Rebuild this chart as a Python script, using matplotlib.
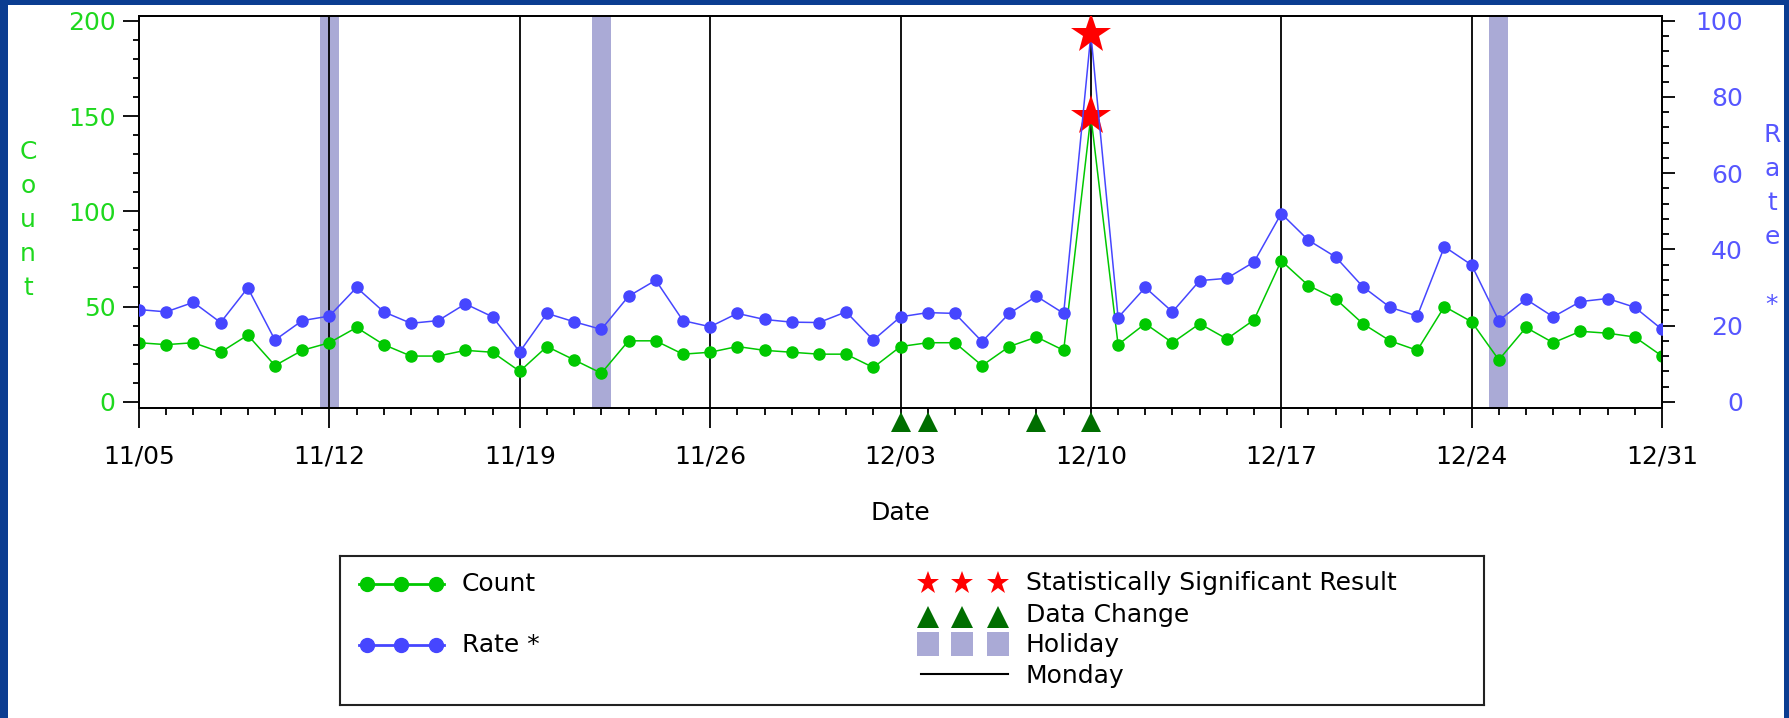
import numpy as np
import matplotlib.pyplot as plt
import matplotlib.dates as mdates
from matplotlib.patches import Rectangle
from matplotlib.ticker import MultipleLocator, FixedLocator

# daily series, 2012-11-05 .. 2012-12-31
dates = np.arange('2012-11-05', '2013-01-01', dtype='datetime64[D]')
count = [31, 30, 31, 26, 35, 19, 27, 31, 39, 30, 24, 24, 27, 26, 16, 29, 22, 15,
         32, 32, 25, 26, 29, 27, 26, 25, 25, 18, 29, 31, 31, 19, 29, 34, 27, 150,
         30, 41, 31, 41,
         33, 43, 74, 61, 54, 41, 32, 27, 50, 42, 22, 39, 31, 37, 36, 34, 24]
rate = [24.2, 23.6, 26.1, 20.8, 29.9, 16.2, 21.3, 22.5, 30.0, 23.6, 20.6, 21.3,
        25.7, 22.3, 13.1, 23.2, 21.0, 19.0,
        27.7, 31.9, 21.3, 19.7, 23.2, 21.6, 20.9, 20.8, 23.6, 16.2, 22.3, 23.4,
        23.2, 15.8, 23.2, 27.7, 23.2, 96.5, 22.1, 30.0, 23.6, 31.8,
        32.4, 36.7, 49.4, 42.4, 38.0, 30.2, 24.8, 22.5, 40.7, 35.9, 21.3, 26.9,
        22.3, 26.3, 27.1, 24.8, 19.0]

holidays = np.array(['2012-11-12', '2012-11-22', '2012-12-25'], dtype='datetime64[D]')
mondays = np.array(['2012-11-12', '2012-11-19', '2012-11-26', '2012-12-03',
                    '2012-12-10', '2012-12-17', '2012-12-24'], dtype='datetime64[D]')
data_changes = np.array(['2012-12-03', '2012-12-04', '2012-12-08', '2012-12-10'],
                        dtype='datetime64[D]')
significant = np.array(['2012-12-10'], dtype='datetime64[D]')

GREEN = '#00c800'
GREEN_TXT = '#1ed81e'
BLUE = '#4646ff'
BLUE_TXT = '#5656ff'
HOLI = '#aaaad6'
DKGREEN = '#006e00'
BORDER = '#0b3d91'
FS = 18

plt.rcParams['font.family'] = ['DejaVu Sans']

W, H = 1789, 718
fig = plt.figure(figsize=(W / 100, H / 100), dpi=100, facecolor=BORDER)
fig.patches.append(Rectangle((8 / W, 0), (1784 - 8) / W, (H - 5) / H,
                             transform=fig.transFigure, facecolor='white',
                             edgecolor='none', zorder=-10))

ax = fig.add_axes([139 / W, (H - 407.5) / H, (1662 - 139) / W, 391.5 / H])
ax2 = ax.twinx()

# holidays and mondays
for h in holidays:
    c = mdates.date2num(h)
    ax.axvspan(c - 0.35, c + 0.35, color=HOLI, lw=0, zorder=1)
for m in mondays:
    ax.axvline(m, color='black', lw=1.3, zorder=1.5)

ax.plot(dates, count, color=GREEN, lw=1.1, marker='o', ms=8, mec=GREEN, zorder=3)
ax2.plot(dates, rate, color=BLUE, lw=1.1, marker='o', ms=8, mec=BLUE, zorder=3)

sig = np.isin(dates, significant)
ax.plot(dates[sig], np.array(count)[sig], ls='none', marker='*', ms=30,
        color='red', mew=0, zorder=4)
ax2.plot(dates[sig], np.array(rate)[sig], ls='none', marker='*', ms=30,
         color='red', mew=0, zorder=4)

ax.plot(data_changes, np.full(len(data_changes), -0.037), ls='none', marker='^',
        ms=15, color=DKGREEN, mew=0, transform=ax.get_xaxis_transform(),
        clip_on=False, zorder=2)

ax.set_xlim(dates[0], dates[-1])
ax.set_ylim(-3, 202.5)
ax2.set_ylim(-1.5, 101.25)

ax.xaxis.set_major_locator(mdates.WeekdayLocator(byweekday=mdates.MO))
ax.xaxis.set_minor_locator(mdates.DayLocator())
ax.xaxis.set_major_formatter(mdates.DateFormatter('%m/%d'))
ax.yaxis.set_major_locator(MultipleLocator(50))
ax.yaxis.set_minor_locator(MultipleLocator(10))
ax2.yaxis.set_major_locator(FixedLocator([0, 20, 40, 60, 80, 100]))
ax2.yaxis.set_minor_locator(MultipleLocator(4))

ax.tick_params(axis='x', which='major', direction='out', length=14.4, width=1.3,
               labelsize=FS, pad=12, colors='black')
ax.tick_params(axis='x', which='minor', direction='out', length=5, width=1.3)
ax.tick_params(axis='y', which='major', direction='out', length=11.5, width=1.3,
               labelsize=FS, pad=5.5, labelcolor=GREEN_TXT)
ax.tick_params(axis='y', which='minor', direction='out', length=4.3, width=1.3)
ax2.tick_params(axis='y', which='major', direction='out', length=9.7, width=1.3,
                labelsize=FS, pad=48.5, labelcolor=BLUE_TXT)
ax2.tick_params(axis='y', which='minor', direction='out', length=5, width=1.3)
for lbl in ax2.get_yticklabels():
    lbl.set_horizontalalignment('right')

for a in (ax, ax2):
    for s in a.spines.values():
        s.set_linewidth(1.3)

ax.set_xlabel('Date', fontsize=FS, labelpad=24)

fig.text(28 / W, (H - 220) / H, '\n'.join('Count'), color=GREEN_TXT, fontsize=FS,
         ha='center', va='center', ma='center', linespacing=1.53)
fig.text(1772 / W, (H - 220) / H, '\n'.join('Rate *'), color=BLUE_TXT, fontsize=FS,
         ha='center', va='center', ma='center', linespacing=1.53)

# legend box
lax = fig.add_axes([340 / W, (H - 705) / H, (1484 - 340) / W, 149 / H])
lax.set_xlim(340, 1484)
lax.set_ylim(705, 556)
lax.set_xticks([])
lax.set_yticks([])
for s in lax.spines.values():
    s.set_linewidth(1.5)
    s.set_color('#222222')

for y, col, lab in [(584, GREEN, 'Count'), (645, BLUE, 'Rate *')]:
    lax.plot([359, 444], [y, y], color=col, lw=2)
    lax.plot([367, 401, 436], [y, y, y], ls='none', marker='o', ms=10, color=col)
    lax.text(462, y, lab, fontsize=FS, va='center')

kx = [928, 962, 998]
lax.plot(kx, [583] * 3, ls='none', marker='*', ms=17, color='red', mew=0)
lax.text(1026, 583, 'Statistically Significant Result', fontsize=FS, va='center')
lax.plot(kx, [617] * 3, ls='none', marker='^', ms=16, color=DKGREEN, mew=0)
lax.text(1026, 615, 'Data Change', fontsize=FS, va='center')
for x in kx:
    lax.add_patch(Rectangle((x - 11, 632), 22, 24, facecolor=HOLI, edgecolor='none'))
lax.text(1026, 645, 'Holiday', fontsize=FS, va='center')
lax.plot([921, 1008], [674, 674], color='black', lw=1.5)
lax.text(1026, 676, 'Monday', fontsize=FS, va='center')

fig.savefig('out.png', dpi=100, facecolor=BORDER)
